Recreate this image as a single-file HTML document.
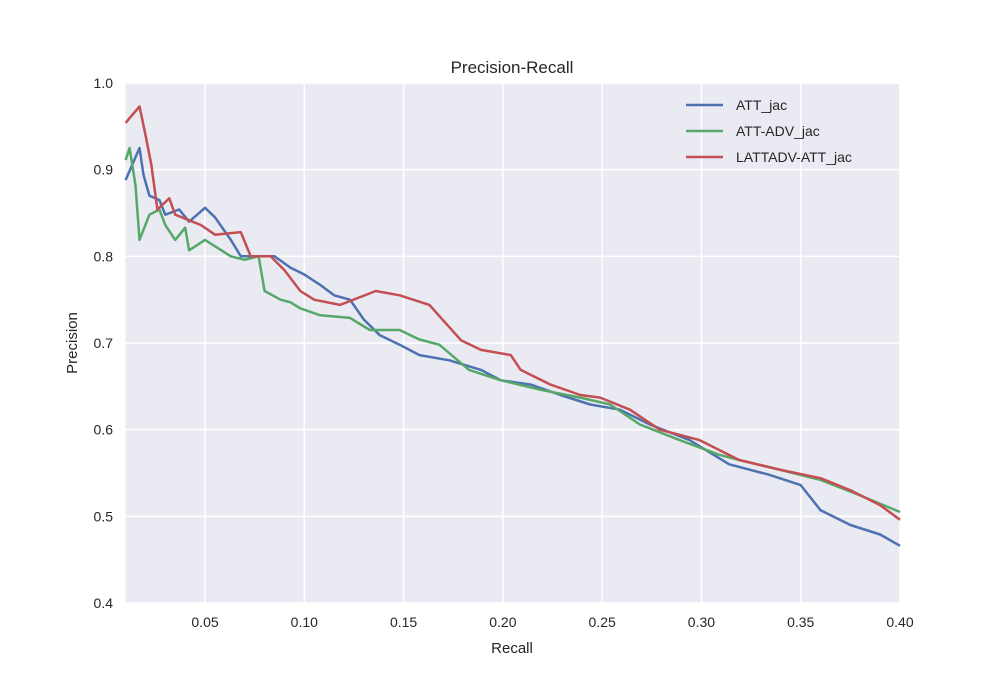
<!DOCTYPE html>
<html><head><meta charset="utf-8"><style>
body{margin:0;background:#fff;}
svg text{font-family:"Liberation Sans",sans-serif;fill:#262626;}
</style></head><body>
<svg id="chart" width="1000" height="688">
<rect x="125.6" y="83" width="774.4" height="520" fill="#eaeaf2"/>
<g id="grid"></g>
<g id="series"></g>
<g id="ticks"></g>
<text x="512" y="73" text-anchor="middle" font-size="17">Precision-Recall</text>
<text x="512" y="653" text-anchor="middle" font-size="15">Recall</text>
<text x="77" y="343" text-anchor="middle" font-size="15" transform="rotate(-90 77 343)">Precision</text>
<g id="legend"></g>
</svg>
<script>
const xTicks=[0.05,0.10,0.15,0.20,0.25,0.30,0.35,0.40];
const xTickLabels=["0.05","0.10","0.15","0.20","0.25","0.30","0.35","0.40"];
const yTicks=[0.4,0.5,0.6,0.7,0.8,0.9,1.0];
const yTickLabels=["0.4","0.5","0.6","0.7","0.8","0.9","1.0"];
const seriesNames=["ATT_jac","ATT-ADV_jac","LATTADV-ATT_jac"];
const blueRecall=[0.01,0.017,0.019,0.022,0.027,0.03,0.037,0.042,0.05,0.055,0.063,0.068,0.078,0.085,0.093,0.10,0.108,0.115,0.123,0.13,0.138,0.148,0.158,0.173,0.189,0.199,0.214,0.229,0.244,0.259,0.274,0.294,0.314,0.334,0.35,0.36,0.375,0.39,0.40];
const bluePrec=[0.888,0.925,0.894,0.87,0.865,0.848,0.854,0.84,0.856,0.845,0.819,0.80,0.80,0.80,0.787,0.779,0.767,0.755,0.75,0.727,0.709,0.698,0.686,0.68,0.669,0.657,0.652,0.64,0.629,0.623,0.606,0.588,0.56,0.548,0.536,0.507,0.49,0.479,0.466];
const greenRecall=[0.01,0.012,0.015,0.017,0.022,0.027,0.03,0.035,0.04,0.042,0.05,0.063,0.07,0.077,0.08,0.088,0.093,0.098,0.108,0.123,0.133,0.148,0.158,0.168,0.183,0.199,0.219,0.239,0.254,0.269,0.289,0.309,0.319,0.339,0.36,0.38,0.40];
const greenPrec=[0.911,0.925,0.882,0.819,0.848,0.854,0.836,0.819,0.833,0.807,0.819,0.80,0.796,0.80,0.76,0.75,0.747,0.74,0.732,0.729,0.715,0.715,0.704,0.698,0.669,0.657,0.646,0.637,0.629,0.606,0.588,0.571,0.565,0.554,0.542,0.524,0.505];
const redRecall=[0.01,0.017,0.02,0.023,0.026,0.032,0.035,0.048,0.055,0.068,0.073,0.083,0.09,0.098,0.105,0.118,0.136,0.148,0.163,0.179,0.189,0.204,0.209,0.224,0.239,0.249,0.264,0.279,0.299,0.319,0.339,0.36,0.375,0.39,0.40];
const redPrec=[0.954,0.973,0.94,0.905,0.854,0.867,0.848,0.836,0.825,0.828,0.80,0.80,0.784,0.76,0.75,0.744,0.76,0.755,0.744,0.703,0.692,0.686,0.669,0.652,0.64,0.637,0.623,0.60,0.588,0.565,0.554,0.544,0.53,0.513,0.496];

const X0=125.6,X1=900,Y0=603,Y1=83;
const xs=v=>X0+(v-0.01)/(0.40-0.01)*(X1-X0);
const ys=v=>Y0-(v-0.4)/(1.0-0.4)*(Y0-Y1);
const NS="http://www.w3.org/2000/svg";
function mk(tag,attrs,parent){const e=document.createElementNS(NS,tag);for(const k in attrs)e.setAttribute(k,attrs[k]);parent.appendChild(e);return e;}
const grid=document.getElementById('grid'),ticks=document.getElementById('ticks');
xTicks.forEach((t,i)=>{
  const l=mk('line',{x1:xs(t),x2:xs(t),y1:Y1,y2:Y0,stroke:'#fff','stroke-width':1.5},grid);
  
  
  const tx=mk('text',{x:xs(t),y:627,'text-anchor':'middle','font-size':14},ticks);
  tx.textContent=xTickLabels[i];
  
  
});
yTicks.forEach((t,i)=>{
  const l=mk('line',{x1:X0,x2:X1,y1:ys(t),y2:ys(t),stroke:'#fff','stroke-width':1.5},grid);
  
  
  const tx=mk('text',{x:113,y:ys(t)+5,'text-anchor':'end','font-size':14},ticks);
  tx.textContent=yTickLabels[i];
  
  
});
const ser=[[blueRecall,bluePrec,'#4c72b0'],[greenRecall,greenPrec,'#55a868'],[redRecall,redPrec,'#c44e52']];
const sg=document.getElementById('series'),lg=document.getElementById('legend');
ser.forEach((s,i)=>{
  const pts=s[0].map((r,j)=>xs(r).toFixed(1)+','+ys(s[1][j]).toFixed(1)).join(' ');
  const p=mk('polyline',{points:pts,fill:'none',stroke:s[2],'stroke-width':2.5,'stroke-linejoin':'round'},sg);
  
  
  const y=105+i*26;
  const ll=mk('line',{x1:686,x2:723,y1:y,y2:y,stroke:s[2],'stroke-width':2.5},lg);
  
  
  const lt=mk('text',{x:736,y:y+5,'font-size':14},lg);
  lt.textContent=seriesNames[i];
  
  
});
</script>
</body></html>
